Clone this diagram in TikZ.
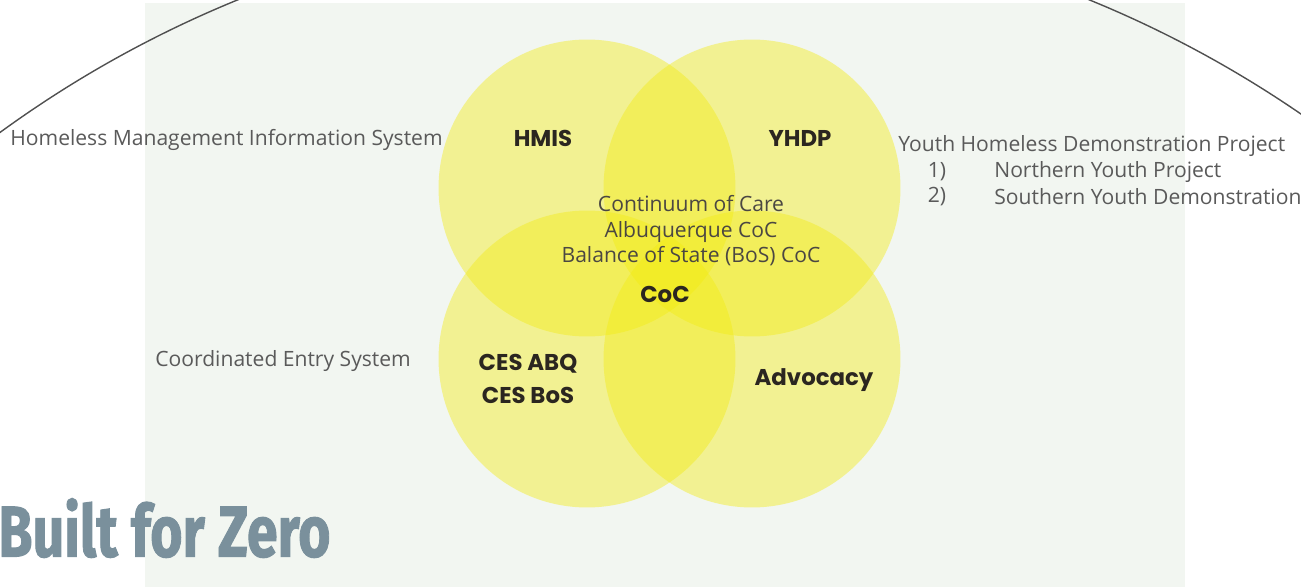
\documentclass[tikz,border=0pt]{standalone}
\usepackage{fontspec}
\usepackage{graphicx}
\setmainfont{Open Sans}
\newfontfamily\labelfont{Poppins}
\newfontfamily\brandfont[FakeBold=1.5]{Fira Sans}
\definecolor{panel}{HTML}{F2F6F1}
\definecolor{venn}{HTML}{F4EC10}
\definecolor{note}{HTML}{5A5A5A}
\definecolor{ink}{HTML}{2B2620}
\definecolor{brand}{HTML}{7A909C}
\definecolor{rim}{HTML}{505050}

\begin{document}
\begin{tikzpicture}[x=0.02cm,y=-0.02cm]

  \tikzstyle{set}=[circle,fill=venn,fill opacity=0.42,minimum size=5.94cm,inner sep=0pt]
  \tikzstyle{tag}=[font=\labelfont\bfseries\fontsize{13}{19}\selectfont,text=ink,align=center,inner sep=0pt]
  \tikzstyle{note}=[font=\fontsize{12}{14.5}\selectfont,text=note,inner sep=0pt]

  \useasboundingbox (0,0) rectangle (1301,587);
  \clip (0,0) rectangle (1301,587);

  \fill[panel] (145,3) rectangle (1185,587);

  % big rim
  \draw[rim,line width=0.8pt] (663.5,1044.5) circle[radius=22.56cm];

  \node[set] (c1) at (587,188) {};
  \node[set] (c2) at (752,188) {};
  \node[set] (c3) at (587,359) {};
  \node[set] (c4) at (752,359) {};

  \node[tag] (hmis) at (543,138) {HMIS};
  \node[tag] (yhdp) at (800,138) {YHDP};
  \node[tag] (coc) at (665,294) {CoC};
  \node[tag] (ces) at (528,379) {CES ABQ\\CES BoS};
  \node[tag] (adv) at (814,380) {Advocacy};

  \node[note,text=ink!85,align=center] (care) at (691,231)
    {Continuum of Care\\Albuquerque CoC\\Balance of State (BoS) CoC};

  \node[note,anchor=west] (hmis txt) at (10,140) {Homeless Management Information System};
  \node[note,anchor=west] (ces txt) at (155,361) {Coordinated Entry System};
  \node[note,anchor=west] (yhdp txt) at (898,146) {Youth Homeless Demonstration Project};
  \node[note] (n1) at (937,172) {1)};
  \node[note] (n2) at (937,197) {2)};
  \node[note,anchor=west] (north) at (994,172) {Northern Youth Project};
  \node[note,anchor=west] (south) at (994,197) {Southern Youth Demonstration};

  \node[anchor=west,inner sep=0pt,text=brand,font=\brandfont\bfseries\fontsize{41}{41}\selectfont] (bfz) at (-2,528)
    {\scalebox{0.77}[1]{Built for Zero}};

\end{tikzpicture}
\end{document}
